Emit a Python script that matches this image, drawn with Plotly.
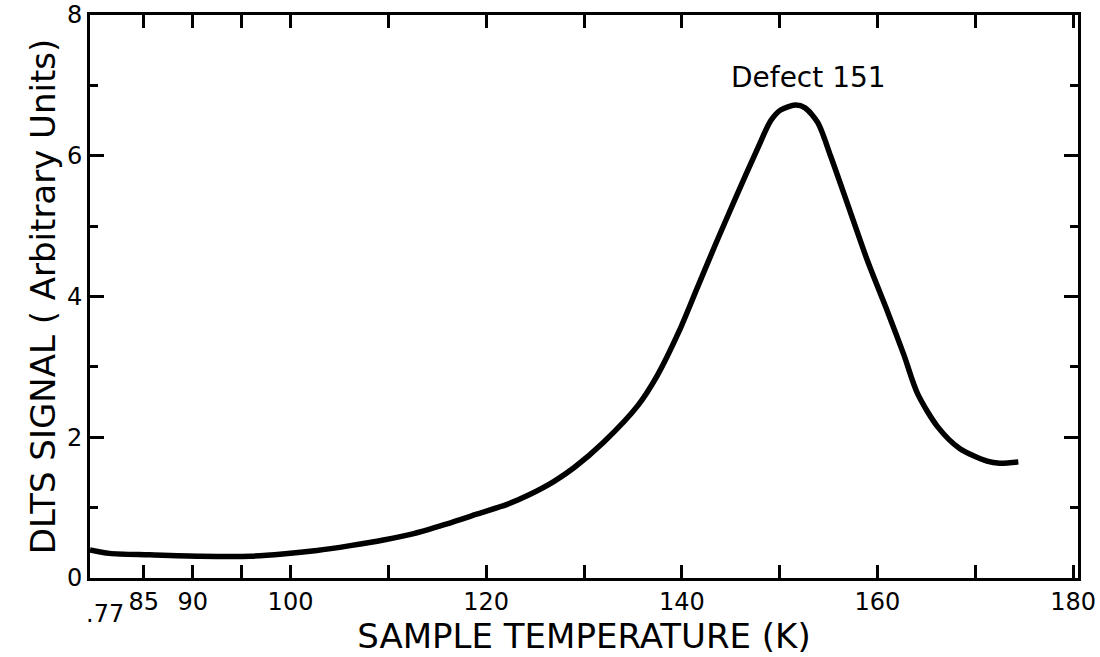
import plotly.graph_objects as go

# Data
temperature_k = [79.5, 81.5, 85.6, 90.8, 95.9, 99.2, 102.7, 106.1, 109.5, 112.6,
                 116.0, 119.1, 122.2, 124.5, 126.9, 129.0, 132.0, 135.5, 137.5,
                 139.7, 141.6, 143.5, 145.5, 147.8, 149.1, 150.1, 151.6, 152.6, 153.9,
                 155.2, 156.9, 159.0, 161.1, 162.7, 164.1, 166.2, 168.4, 171.2, 172.5, 174.4]
dlts_signal = [0.40, 0.35, 0.33, 0.31, 0.31, 0.34, 0.39, 0.46, 0.54, 0.63,
               0.77, 0.91, 1.05, 1.19, 1.37, 1.57, 1.93, 2.45, 2.88,
               3.50, 4.13, 4.76, 5.40, 6.12, 6.50, 6.65, 6.72, 6.68, 6.47,
               6.00, 5.33, 4.50, 3.76, 3.17, 2.62, 2.14, 1.84, 1.66, 1.63, 1.65]

x_tick_vals = [85, 90, 95, 100, 110, 120, 130, 140, 150, 160, 170, 180]
x_tick_text = ["85", "90", "", "100", "", "120", "", "140", "", "160", "", "180"]
x_start_label = ".77"
y_tick_vals = [0, 2, 4, 6, 8]
y_tick_text = ["0", "2", "4", "6", "8"]
peak_label = "Defect 151"
peak_label_pos = (152.9, 6.85)

X_RANGE = [79.5, 180.5]
Y_RANGE = [0, 8]
FONT = "DejaVu Sans"

fig = go.Figure()
fig.add_trace(go.Scatter(
    x=temperature_k, y=dlts_signal, mode="lines",
    line=dict(color="black", width=5.5, shape="spline", smoothing=0.8),
    showlegend=False, hoverinfo="skip"))

fig.add_annotation(x=peak_label_pos[0], y=peak_label_pos[1], xref="x", yref="y",
                   text=peak_label, showarrow=False,
                   font=dict(family=FONT, size=28, color="black"),
                   xanchor="center", yanchor="bottom")

fig.add_annotation(x=X_RANGE[0], y=0, xref="x", yref="paper",
                   text=x_start_label, showarrow=False,
                   font=dict(family=FONT, size=24, color="black"),
                   xanchor="left", yanchor="top", xshift=-6, yshift=-20)

axis_common = dict(showline=True, linecolor="black", linewidth=3, mirror="ticks",
                   ticks="inside", tickcolor="black", tickwidth=2.5,
                   showgrid=False, zeroline=False, automargin=False,
                   ticklabeloverflow="allow",
                   tickfont=dict(family=FONT, size=24, color="black"))

fig.update_xaxes(range=X_RANGE, tickmode="array", tickvals=x_tick_vals,
                 ticktext=x_tick_text, ticklen=13,
                 title=dict(text="SAMPLE TEMPERATURE (K)", standoff=4,
                            font=dict(family=FONT, size=34, color="black")),
                 **axis_common)
fig.update_yaxes(range=Y_RANGE, tickmode="array", tickvals=y_tick_vals,
                 ticktext=y_tick_text, ticklen=14,
                 minor=dict(dtick=1, tick0=0, ticklen=8, ticks="inside",
                            tickcolor="black", tickwidth=2.5),
                 title=dict(text="DLTS SIGNAL ( Arbitrary Units)", standoff=2,
                            font=dict(family=FONT, size=34, color="black")),
                 **axis_common)

fig.update_layout(width=1100, height=657,
                  margin=dict(l=90, r=22, t=15, b=79, pad=0),
                  paper_bgcolor="white", plot_bgcolor="white",
                  font=dict(family=FONT, color="black"))

# remove the browser's default body margin so the figure sits at the page corner
fig.write_html("out.html",
               config={"displayModeBar": False},
               post_script="document.body.style.margin='0';document.body.style.overflow='hidden';")
